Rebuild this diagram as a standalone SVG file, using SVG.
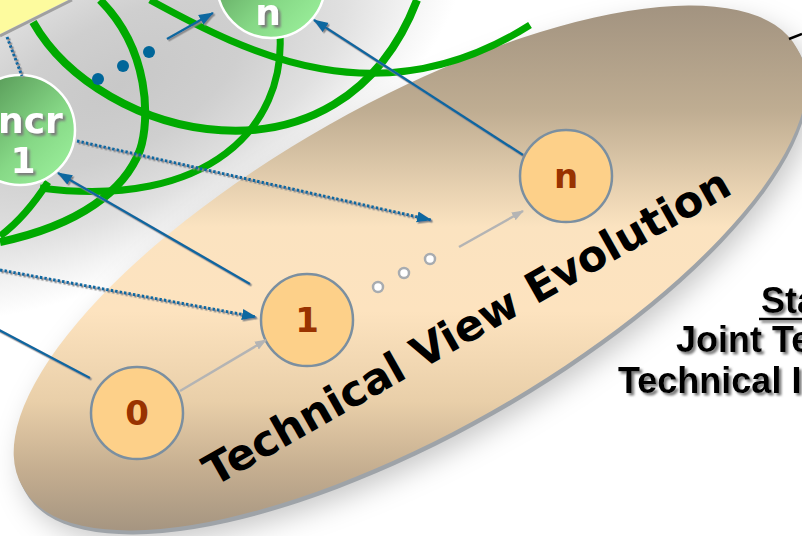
<svg xmlns="http://www.w3.org/2000/svg" width="802" height="536" viewBox="0 0 802 536">
  <style>
    .arc { fill: none; stroke: #00aa00; stroke-linecap: butt; }
    .blue { fill: none; stroke: #0b67a0; stroke-width: 2.5; }
    .dotted { fill: none; stroke: #0b67a0; stroke-width: 3; stroke-dasharray: 2.5 2; }
    .gray { fill: none; stroke: #b4b4b4; stroke-width: 2.5; }
    .onode { fill: #fdd089; stroke: #7b8fa0; stroke-width: 2.5; }
    .otext { font-family: "DejaVu Sans", Verdana, sans-serif; font-weight: bold; font-size: 34px; fill: #993300; text-anchor: middle; }
    .gnode { fill: url(#greenGrad); stroke: #ffffff; stroke-width: 2.5; }
    .gtext { font-family: "DejaVu Sans", Verdana, sans-serif; font-weight: bold; font-size: 36px; fill: #ffffff; }
    .ring { fill: #ffffff; stroke: #a8acb0; stroke-width: 2.5; }
    .rtext { font-family: "Liberation Sans", Arial, sans-serif; font-weight: bold; font-size: 36px; fill: #000000; }
  </style>
  <defs>
    <radialGradient id="bgGray" cx="0.5" cy="0.5" r="0.5">
      <stop offset="0" stop-color="#c8c8c8"/>
      <stop offset="0.35" stop-color="#cfcfcf"/>
      <stop offset="0.65" stop-color="#e0e0e0"/>
      <stop offset="0.85" stop-color="#f3f3f3"/>
      <stop offset="1" stop-color="#ffffff"/>
    </radialGradient>
    <linearGradient id="ellGrad" gradientUnits="userSpaceOnUse" x1="0" y1="5" x2="0" y2="533">
      <stop offset="0" stop-color="#a29380"/>
      <stop offset="0.2" stop-color="#bfad92"/>
      <stop offset="0.42" stop-color="#fbe3c0"/>
      <stop offset="0.58" stop-color="#fde3bf"/>
      <stop offset="0.75" stop-color="#e9cfa9"/>
      <stop offset="0.88" stop-color="#c5ae90"/>
      <stop offset="1" stop-color="#a49480"/>
    </linearGradient>
    <linearGradient id="greenGrad" x1="0" y1="0" x2="1" y2="1">
      <stop offset="0" stop-color="#4c8a4c"/>
      <stop offset="0.6" stop-color="#86d886"/>
      <stop offset="1" stop-color="#a0f5a0"/>
    </linearGradient>
    <filter id="softShadow" x="-20%" y="-20%" width="140%" height="140%">
      <feGaussianBlur stdDeviation="14"/>
    </filter>
    <filter id="lineShadow" x="-5%" y="-5%" width="110%" height="110%">
      <feDropShadow dx="1.5" dy="1.5" stdDeviation="0.4" flood-color="#8a8a8a"/>
    </filter>
    <filter id="textShadow" x="-10%" y="-10%" width="130%" height="130%">
      <feDropShadow dx="2.5" dy="2.5" stdDeviation="1" flood-color="#7a7a7a"/>
    </filter>
    <marker id="arrBlue" markerUnits="userSpaceOnUse" markerWidth="15" markerHeight="12" refX="14" refY="6" orient="auto">
      <path d="M0,0.5 L15,6 L0,11.5 Z" fill="#0b67a0"/>
    </marker>
    <marker id="arrGray" markerUnits="userSpaceOnUse" markerWidth="12" markerHeight="10" refX="11" refY="5" orient="auto">
      <path d="M0,0.5 L12,5 L0,9.5 Z" fill="#b4b4b4"/>
    </marker>
    <path id="ellPath" d="M22.7,487.1 A445,163 -29.5 1 1 797.3,48.9 A445,163 -29.5 1 1 22.7,487.1 Z"/>
  </defs>

  <rect x="0" y="0" width="802" height="536" fill="#ffffff"/>
  <ellipse cx="120" cy="85" rx="380" ry="180" transform="rotate(-28 120 85)" fill="url(#bgGray)"/>

  <!-- yellow corner -->
  <polygon points="0,0 68,0 0,34" fill="#fdfb9e"/>
  <line x1="0" y1="36" x2="72" y2="0" stroke="#a0a0a0" stroke-width="3"/>

  <!-- big ellipse with shadows -->
  <use href="#ellPath" transform="translate(8,12)" fill="#000000" fill-opacity="0.22" filter="url(#softShadow)"/>
  <use href="#ellPath" transform="translate(2,4)" fill="#9ea3a8"/>
  <use href="#ellPath" fill="url(#ellGrad)"/>

  <!-- green arcs -->
  <path class="arc" stroke-width="8" d="M33,22 C100,140 340,200 417,0"/>
  <path class="arc" stroke-width="7" d="M150,0 C250,55 380,120 530,25"/>
  <path class="arc" stroke-width="8" d="M100,0 C150,50 150,120 140,150 C125,190 80,225 0,242"/>
  <path class="arc" stroke-width="7" d="M280,35 C285,125 210,210 40,188"/>
  <path class="arc" stroke-width="7" d="M48,182 C30,210 15,225 0,236"/>

  <!-- blue dots -->
  <circle cx="98" cy="79" r="6" fill="#006699"/>
  <circle cx="123" cy="66" r="6" fill="#006699"/>
  <circle cx="149" cy="52" r="6" fill="#006699"/>

  <!-- ellipsis rings -->
  <circle class="ring" cx="378" cy="287" r="5"/>
  <circle class="ring" cx="404" cy="273" r="5"/>
  <circle class="ring" cx="430" cy="259" r="5"/>

  <!-- nodes -->
  <g id="node-n-top">
    <circle class="gnode" cx="271" cy="-16" r="54"/>
    <text class="gtext" x="268" y="25" text-anchor="middle" filter="url(#textShadow)">n</text>
  </g>
  <g id="node-incr-1">
    <circle class="gnode" cx="20" cy="130" r="55"/>
    <text class="gtext" x="-2" y="133" filter="url(#textShadow)">ncr</text>
    <text class="gtext" x="23" y="173" text-anchor="middle" filter="url(#textShadow)">1</text>
  </g>
  <g id="node-0">
    <circle class="onode" cx="137" cy="413" r="46"/>
    <text class="otext" x="137" y="425">0</text>
  </g>
  <g id="node-1">
    <circle class="onode" cx="307" cy="320" r="46"/>
    <text class="otext" x="307" y="332">1</text>
  </g>
  <g id="node-n">
    <circle class="onode" cx="566" cy="176" r="46"/>
    <text class="otext" x="566" y="188">n</text>
  </g>

  <!-- connectors -->
  <g id="connectors">
    <g filter="url(#lineShadow)">
      <line class="blue" x1="523" y1="155" x2="314" y2="20" marker-end="url(#arrBlue)"/>
      <line class="blue" x1="250" y1="284" x2="58" y2="173" marker-end="url(#arrBlue)"/>
      <line class="blue" x1="90" y1="378" x2="-20" y2="320"/>
      <line class="blue" x1="167" y1="39" x2="213" y2="13" marker-end="url(#arrBlue)"/>
      <line class="dotted" x1="77" y1="141" x2="431" y2="220" marker-end="url(#arrBlue)"/>
      <line class="dotted" x1="0" y1="270" x2="256" y2="317" marker-end="url(#arrBlue)"/>
      <line class="dotted" x1="7" y1="37" x2="22" y2="76"/>
    </g>
    <line class="gray" x1="180" y1="391" x2="266" y2="340" marker-end="url(#arrGray)"/>
    <line class="gray" x1="459" y1="247" x2="523" y2="211" marker-end="url(#arrGray)"/>
    <line x1="789" y1="39" x2="802" y2="34" stroke="#000000" stroke-width="2.5"/>
  </g>

  <!-- ellipse label -->
  <text x="214" y="487" transform="rotate(-29.5 214 487)" font-family="'DejaVu Sans', Verdana, sans-serif" font-weight="bold" font-size="43" fill="#000000">Technical View Evolution</text>

  <!-- right side texts -->
  <g filter="url(#textShadow)">
    <text class="rtext" x="761" y="313">Sta</text>
    <line x1="759" y1="319" x2="802" y2="319" stroke="#000000" stroke-width="2.5"/>
    <text class="rtext" x="676" y="352">Joint Te</text>
    <text class="rtext" x="618" y="393">Technical I</text>
  </g>
</svg>
